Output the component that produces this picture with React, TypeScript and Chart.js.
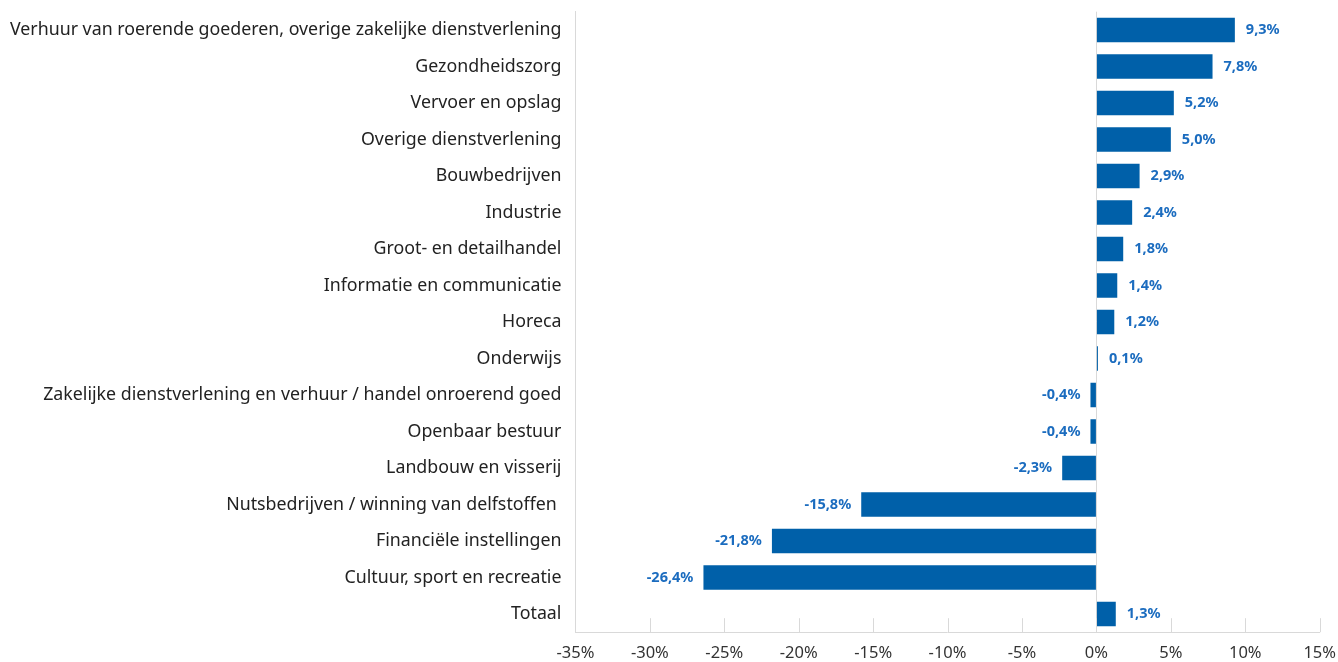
import React, { useEffect, useRef } from "react";
import { Chart, registerables } from "chart.js";

Chart.register(...registerables);

const categories: string[] = [
  "Verhuur van roerende goederen, overige zakelijke dienstverlening",
  "Gezondheidszorg",
  "Vervoer en opslag",
  "Overige dienstverlening",
  "Bouwbedrijven",
  "Industrie",
  "Groot- en detailhandel",
  "Informatie en communicatie",
  "Horeca",
  "Onderwijs",
  "Zakelijke dienstverlening en verhuur / handel onroerend goed",
  "Openbaar bestuur",
  "Landbouw en visserij",
  "Nutsbedrijven / winning van delfstoffen ",
  "Financiële instellingen",
  "Cultuur, sport en recreatie",
  "Totaal",
];

const values: number[] = [9.3, 7.8, 5.2, 5.0, 2.9, 2.4, 1.8, 1.4, 1.2, 0.1, -0.4, -0.4, -2.3, -15.8, -21.8, -26.4, 1.3];

const xMin = -35;
const xMax = 15;
const xStep = 5;

const FONT = "'Noto Sans', sans-serif";
const BAR_COLOR = "#0060a9";
const LABEL_COLOR = "#1b6cbf";
const GRID_COLOR = "#d9d9d9";

const CANVAS_W = 1347;
const CANVAS_H = 677;

const fmt = (v: number) => v.toFixed(1).replace(".", ",") + "%";

const extrasPlugin = {
  id: "extras",
  afterDatasetsDraw(chart: any) {
    const { ctx, chartArea } = chart;
    const xs = chart.scales.x;
    ctx.save();
    ctx.strokeStyle = GRID_COLOR;
    ctx.lineWidth = 1;
    xs.ticks.forEach((t: any) => {
      const px = Math.round(xs.getPixelForValue(t.value)) + 0.5;
      ctx.beginPath();
      ctx.moveTo(px, chartArea.bottom);
      ctx.lineTo(px, chartArea.bottom - 14);
      ctx.stroke();
    });
    const meta = chart.getDatasetMeta(0);
    ctx.font = "bold 14.5px " + FONT;
    ctx.fillStyle = LABEL_COLOR;
    ctx.textBaseline = "middle";
    meta.data.forEach((el: any, i: number) => {
      const v = values[i];
      const txt = fmt(v);
      if (v >= 0) {
        ctx.textAlign = "left";
        ctx.fillText(txt, el.x + 11, el.y);
      } else {
        ctx.textAlign = "right";
        ctx.fillText(txt, el.x - 10, el.y);
      }
    });
    ctx.restore();
  },
};

export default function App() {
  const ref = useRef<HTMLCanvasElement | null>(null);
  useEffect(() => {
    if (!ref.current) return;
    const chart = new Chart(ref.current, {
      type: "bar",
      data: {
        labels: categories,
        datasets: [
          {
            data: values,
            backgroundColor: BAR_COLOR,
            barPercentage: 0.67,
            categoryPercentage: 1,
          },
        ],
      },
      options: {
        indexAxis: "y",
        animation: false,
        responsive: false,
        maintainAspectRatio: false,
        layout: { padding: { top: -13, right: 7, bottom: -10, left: -4 } },
        plugins: {
          legend: { display: false },
          tooltip: { enabled: false },
        },
        scales: {
          x: {
            min: xMin,
            max: xMax,
            ticks: {
              stepSize: xStep,
              callback: (v: any) => v + "%",
              color: "#333333",
              font: { family: FONT, size: 16.5 },
              padding: 11,
            },
            grid: {
              drawTicks: false,
              color: (c: any) => (c.tick && c.tick.value === 0 ? GRID_COLOR : "transparent"),
            },
            border: { display: true, color: GRID_COLOR },
          },
          y: {
            ticks: {
              color: "#222222",
              font: { family: FONT, size: 17.8 },
              padding: 14,
            },
            grid: { display: false, drawTicks: false },
            border: { display: true, color: GRID_COLOR },
          },
        },
      },
      plugins: [extrasPlugin],
    });
    return () => chart.destroy();
  }, []);
  return (
    <div style={{ position: "fixed", left: 0, top: 0, width: 1338, height: 662, overflow: "hidden", background: "#fff" }}>
      <canvas
        ref={ref}
        width={CANVAS_W}
        height={CANVAS_H}
        style={{ position: "absolute", left: 0, top: -13, width: CANVAS_W, height: CANVAS_H }}
      />
    </div>
  );
}
